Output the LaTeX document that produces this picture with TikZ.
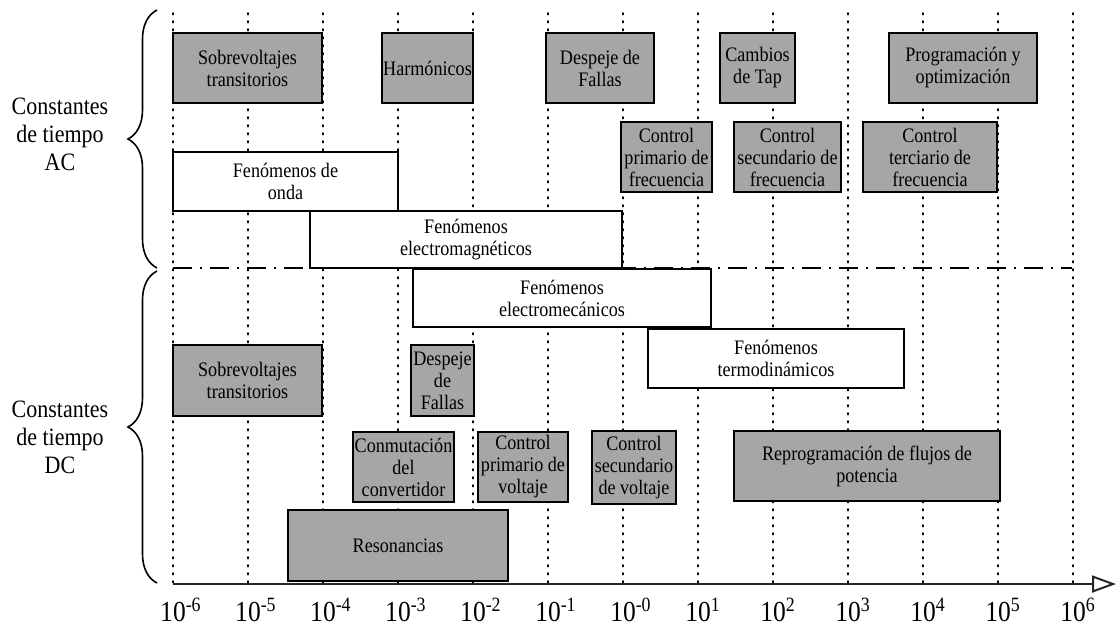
\documentclass[tikz,border=0pt]{standalone}
\usepackage{fontspec}
\setmainfont{Liberation Serif}[FakeStretch=0.88]
\usepackage{tikz}
\usetikzlibrary{positioning}
\usetikzlibrary{arrows.meta,decorations.pathreplacing}
\definecolor{boxgray}{HTML}{A6A6A6}
\newcommand{\boxtxt}{\fontsize{10.3}{11}\selectfont}
\newcommand{\sidetxt}{\fontsize{12.5}{14}\selectfont}
\newcommand{\ticktxt}{\fontsize{14.5}{16}\selectfont}

\begin{document}
\begin{tikzpicture}[x=0.5pt,y=-0.5pt]
\tikzstyle{gbox}=[rectangle, draw=black, fill=boxgray, line width=0.65pt, inner sep=0pt, align=center, font=\boxtxt]
\tikzstyle{wbox}=[rectangle, draw=black, fill=white, line width=1.2pt, inner sep=0pt, align=center, font=\boxtxt]
\tikzset{boxsize/.style 2 args={minimum width=#1*0.5pt, minimum height=#2*0.5pt}}
\tikzstyle{gridline}=[line width=0.8pt, dash pattern=on 0.8pt off 3.2pt, line cap=round]
\tikzstyle{split}=[line width=1pt, dash pattern=on 9.5pt off 4pt on 1pt off 4pt]
\tikzstyle{brace}=[decorate, decoration={brace, amplitude=14.5pt}, line width=0.8pt]
\tikzstyle{axis}=[line width=1pt, draw=black!85, -{Triangle[open, length=12pt, width=8.5pt]}]
\useasboundingbox (0,0) rectangle (1117,628);

% grid and time labels
\foreach \e [count=\i from 0] in {-6,-5,-4,-3,-2,-1,-0,1,2,3,4,5,6} {
  \coordinate (g\i) at (173+75*\i,13);
  \coordinate (h\i) at (173+75*\i,584);
  \draw[gridline] (g\i) -- (h\i);
  \node[font=\ticktxt, inner sep=0pt] (t\i) at (173+75*\i,610) {10\rlap{\textsuperscript{\e}}};
}

% AC / DC separation
\coordinate (sepL) at (173,268);
\coordinate (sepR) at (1072,268);
\draw[split] (sepL) -- (sepR);

% AC time constants
\node[gbox, boxsize={149}{70}] (sobreAC) at (247.5,68) {Sobrevoltajes\\transitorios};
\node[gbox, boxsize={91}{70}] (harm) at (427.5,68) {Harmónicos};
\node[gbox, boxsize={108}{70}] (despAC) at (600,68) {Despeje de\\Fallas};
\node[gbox, boxsize={75}{70}] (tap) at (757.5,68) {Cambios\\de Tap};
\node[gbox, boxsize={148}{70}] (prog) at (963,68) {Programación y\\optimización};
\node[gbox, boxsize={91}{70}] (cpf) at (666.5,157) {Control\\primario de\\frecuencia};
\node[gbox, boxsize={107}{70}] (csf) at (787.5,157) {Control\\secundario de\\frecuencia};
\node[gbox, boxsize={134}{70}] (ctf) at (930,157) {Control\\terciario de\\frecuencia};
\node[wbox, boxsize={225}{59}] (onda) at (285.5,181.5) {Fenómenos de\\onda};
\node[wbox, boxsize={312}{57}] (emag) at (466,239.5) {Fenómenos\\electromagnéticos};

% DC time constants
\node[wbox, boxsize={298}{58}] (emec) at (562,298) {Fenómenos\\electromecánicos};
\node[wbox, boxsize={256}{59}] (termo) at (776,358.5) {Fenómenos\\termodinámicos};
\node[gbox, boxsize={149}{71}] (sobreDC) at (247.5,380.5) {Sobrevoltajes\\transitorios};
\node[gbox, boxsize={63}{71}] (despDC) at (442.5,380.5) {Despeje\\de\\Fallas};
\node[gbox, boxsize={101}{70}] (conm) at (403.5,467) {Conmutación\\del\\convertidor};
\node[gbox, boxsize={90}{70}] (cpv) at (523,467) {Control\\primario de\\voltaje};
\node[gbox, boxsize={84}{73}] (csv) at (634,467.5) {Control\\secundario\\de voltaje};
\node[gbox, boxsize={266}{70}] (repr) at (867,466) {Reprogramación de flujos de\\potencia};
\node[gbox, boxsize={220}{71}] (reson) at (398,545.5) {Resonancias};

% time axis
\coordinate (o) at (173,584);
\coordinate (xend) at (1116,584);
\draw[axis] (o) -- (xend);

% braces and side labels
\coordinate (acB) at (157,268);
\coordinate (acT) at (157,10);
\coordinate (dcB) at (157,583);
\coordinate (dcT) at (157,271);
\draw[brace] (acB) -- (acT);
\draw[brace] (dcB) -- (dcT);
\node[font=\sidetxt, align=center] (acl) at (60,134) {Constantes\\de tiempo\\AC};
\node[font=\sidetxt, align=center] (dcl) at (60,437) {Constantes\\de tiempo\\DC};
\end{tikzpicture}
\end{document}
